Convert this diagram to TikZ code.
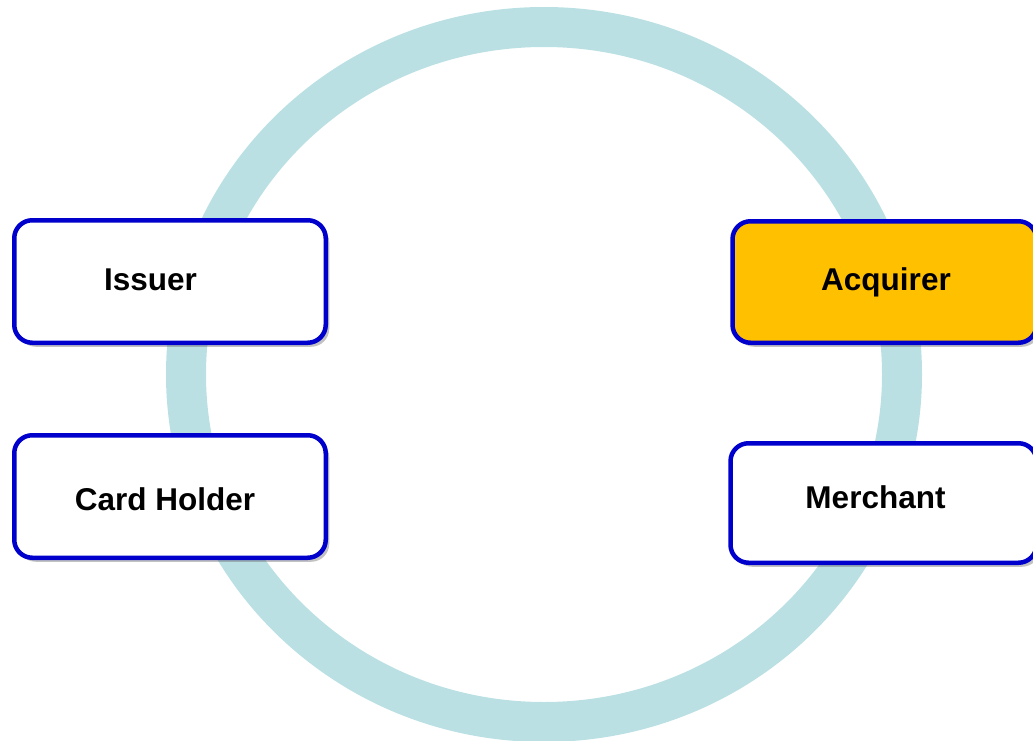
\documentclass[tikz,border=0pt]{standalone}
\usepackage{fontspec}
\setmainfont{Liberation Sans}
\usetikzlibrary{shadows}
\definecolor{ringblue}{HTML}{BBE0E3}
\definecolor{boxblue}{HTML}{0000CC}
\definecolor{acqorange}{HTML}{FFC000}
\tikzset{
  ring/.style={draw=ringblue, line width=40pt},
  partybox/.style={draw=boxblue, line width=4.5pt, rounded corners=18pt, fill=white,
    rectangle, inner sep=0pt,
    drop shadow={shadow xshift=3.5pt, shadow yshift=-4pt, opacity=0.4, fill=black!60, draw=none}},
  partytext/.style={anchor=base, font=\fontsize{31.5}{36}\selectfont\bfseries, inner sep=0pt}
}
\begin{document}
\begin{tikzpicture}[x=1pt,y=-1pt]
\useasboundingbox (0,0) rectangle (1033,741);
\draw[ring] (544,374.5) ellipse [x radius=358, y radius=347.5];
\node[partybox, minimum width=311.5pt, minimum height=122.5pt] (issuer) at (170,281.5) {};
\node[partybox, minimum width=311.5pt, minimum height=122.5pt] (holder) at (170,496.5) {};
\node[partybox, fill=acqorange, minimum width=304pt, minimum height=121.5pt] (acquirer) at (884.5,282) {};
\node[partybox, minimum width=306pt, minimum height=119.5pt] (merchant) at (883.5,503) {};
\node[partytext] (issuer-t) at (150.5,290) {Issuer};
\node[partytext] (holder-t) at (165,510) {Card Holder};
\node[partytext] (acquirer-t) at (886,290) {Acquirer};
\node[partytext] (merchant-t) at (875.5,508.5) {Merchant};
\end{tikzpicture}
\end{document}
